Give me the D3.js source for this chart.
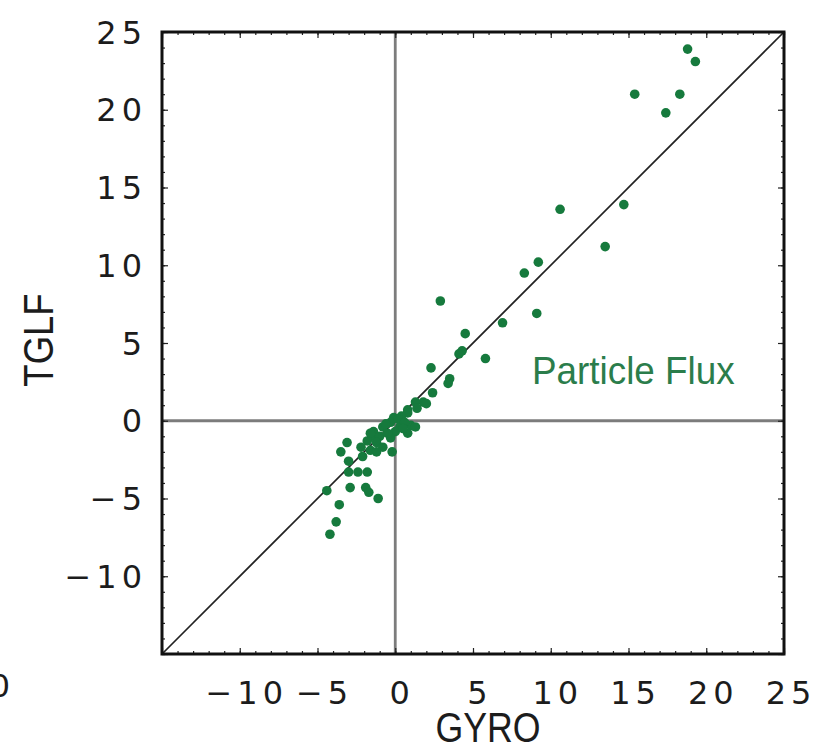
<!DOCTYPE html>
<html>
<head>
<meta charset="utf-8">
<script src="https://cdn.jsdelivr.net/npm/d3@7"></script>
<style>
  html, body { margin: 0; padding: 0; background: #fff; }
  svg { display: block; }
</style>
</head>
<body>
<svg id="chart" width="825" height="749"></svg>
<script>
// GYRO vs TGLF particle flux, one point per case
const gyro = [
  18.8, 19.3, 15.4, 18.3, 17.4, 10.6, 14.7, 13.5, 9.2, 8.3, 9.1, 6.9, 2.9, 4.5, 4.3, 4.1, 5.8,
  2.3, 3.5, 3.4, 2.4, 1.8, 1.3, 0.8,
  2.0, 1.4, 0.8, 0.4, -0.1, -0.3, 1.0, 1.3, 0.3, -0.8, 0.0, 0.8, -1.4, -1.5, -1.0, -0.3,
  -1.8, -1.2, -2.2, -1.6, -0.2, -3.1, -3.0, -2.1, 0.2, 0.6, -0.5, -0.8, -1.6, -1.2, 0.5, -0.6,
  -3.5, -3.0, -2.4, -1.8, -4.4, -2.9, -1.9, -1.7, -1.1, -3.6, -3.8, -4.2
];
const tglf = [
  23.9, 23.1, 21.0, 21.0, 19.8, 13.6, 13.9, 11.2, 10.2, 9.5, 6.9, 6.3, 7.7, 5.6, 4.5, 4.3, 4.0,
  3.4, 2.7, 2.4, 1.8, 1.2, 1.2, 0.7,
  1.1, 0.8, 0.5, 0.3, 0.2, -0.1, -0.3, -0.4, -0.4, -0.4, -0.7, -0.8, -0.7, -1.0, -1.0, -1.1,
  -1.3, -1.4, -1.7, -1.9, -2.0, -1.4, -2.6, -2.3, 0.1, -0.1, -0.8, -1.7, -0.8, -2.0, -0.5, -0.2,
  -2.0, -3.3, -3.3, -3.3, -4.5, -4.3, -4.3, -4.6, -5.0, -5.4, -6.5, -7.3
];
const xDomain = [-15, 25];
const yDomain = [-15, 25];
const xTickLabels = [-10, -5, 0, 5, 10, 15, 20, 25];
const yTickLabels = [-10, -5, 0, 5, 10, 15, 20, 25];
const xTitle = "GYRO";
const yTitle = "TGLF";
const panelNote = "Particle Flux";

const svg = d3.select("#chart");
const plotLeft = 162, plotTop = 32, plotSize = 622;
const x = d3.scaleLinear().domain(xDomain).range([plotLeft, plotLeft + plotSize]);
const y = d3.scaleLinear().domain(yDomain).range([plotTop + plotSize, plotTop]);
const green = "#167a3d";
const fmt = v => (v < 0 ? "\u2212" + Math.abs(v) : String(v));

// zero reference lines
svg.append("line")
  .attr("x1", x(0)).attr("x2", x(0)).attr("y1", y(yDomain[0])).attr("y2", y(yDomain[1]))
  .attr("stroke", "#7c7c7c").attr("stroke-width", 2.8);
svg.append("line")
  .attr("x1", x(xDomain[0])).attr("x2", x(xDomain[1])).attr("y1", y(0)).attr("y2", y(0))
  .attr("stroke", "#7c7c7c").attr("stroke-width", 2.8);

// identity line
svg.append("line")
  .attr("x1", x(-15)).attr("y1", y(-15)).attr("x2", x(25)).attr("y2", y(25))
  .attr("stroke", "#222").attr("stroke-width", 1.7);

// ticks on all four sides, pointing inward
const minor = d3.range(-15, 26, 1);
const major = d3.range(-15, 26, 5);
function ticks(axisFn, scale, values, len, transform) {
  const g = svg.append("g").attr("transform", transform)
    .call(axisFn(scale).tickValues(values).tickSize(len).tickFormat(""));
  g.select(".domain").remove();
  g.selectAll(".tick line").attr("stroke", "#222").attr("stroke-width", 1.2);
}
ticks(d3.axisBottom, x, minor, -3, `translate(0,${plotTop + plotSize})`);
ticks(d3.axisBottom, x, major, -6, `translate(0,${plotTop + plotSize})`);
ticks(d3.axisTop, x, minor, -3, `translate(0,${plotTop})`);
ticks(d3.axisTop, x, major, -6, `translate(0,${plotTop})`);
ticks(d3.axisLeft, y, minor, -3, `translate(${plotLeft},0)`);
ticks(d3.axisLeft, y, major, -6, `translate(${plotLeft},0)`);
ticks(d3.axisRight, y, minor, -3, `translate(${plotLeft + plotSize},0)`);
ticks(d3.axisRight, y, major, -6, `translate(${plotLeft + plotSize},0)`);

// frame
svg.append("rect")
  .attr("x", plotLeft).attr("y", plotTop).attr("width", plotSize).attr("height", plotSize)
  .attr("fill", "none").attr("stroke", "#111").attr("stroke-width", 3);

// points
svg.append("g").selectAll("circle")
  .data(gyro.map((g, i) => [g, tglf[i]]))
  .join("circle")
  .attr("cx", d => x(d[0])).attr("cy", d => y(d[1]))
  .attr("r", 4.8).attr("fill", green);

// tick labels
const tickFont = "'DejaVu Sans', sans-serif";
svg.append("g").selectAll("text").data(yTickLabels).join("text")
  .attr("x", 147).attr("y", d => y(d)).attr("dy", "0.36em")
  .attr("text-anchor", "end")
  .attr("font-family", tickFont).attr("font-size", 32).attr("letter-spacing", 5)
  .attr("fill", "#1c1c1c").text(fmt);
svg.append("g").selectAll("text").data(xTickLabels).join("text")
  .attr("x", d => x(d) + 7).attr("y", 692).attr("dy", "0.36em")
  .attr("text-anchor", "middle")
  .attr("font-family", tickFont).attr("font-size", 32).attr("letter-spacing", 5)
  .attr("fill", "#1c1c1c").text(fmt);

// stray label at the lower-left edge
svg.append("text")
  .attr("x", 10).attr("y", 697).attr("text-anchor", "end")
  .attr("font-family", tickFont).attr("font-size", 32).attr("fill", "#1c1c1c").text("0");

// axis titles
const titleFont = "'Liberation Sans', Arial, sans-serif";
svg.append("text")
  .attr("transform", `translate(488,742) scale(0.85,1)`)
  .attr("text-anchor", "middle")
  .attr("font-family", titleFont).attr("font-size", 42).attr("fill", "#1c1c1c")
  .text(xTitle);
svg.append("text")
  .attr("transform", `translate(53,340) rotate(-90) scale(0.85,1)`)
  .attr("text-anchor", "middle")
  .attr("font-family", titleFont).attr("font-size", 43).attr("fill", "#1c1c1c")
  .text(yTitle);

// panel annotation
svg.append("text")
  .attr("transform", `translate(532,384) scale(0.97,1)`)
  .attr("font-family", titleFont).attr("font-size", 38).attr("fill", "#2b7d4b")
  .text(panelNote);
</script>
</body>
</html>
